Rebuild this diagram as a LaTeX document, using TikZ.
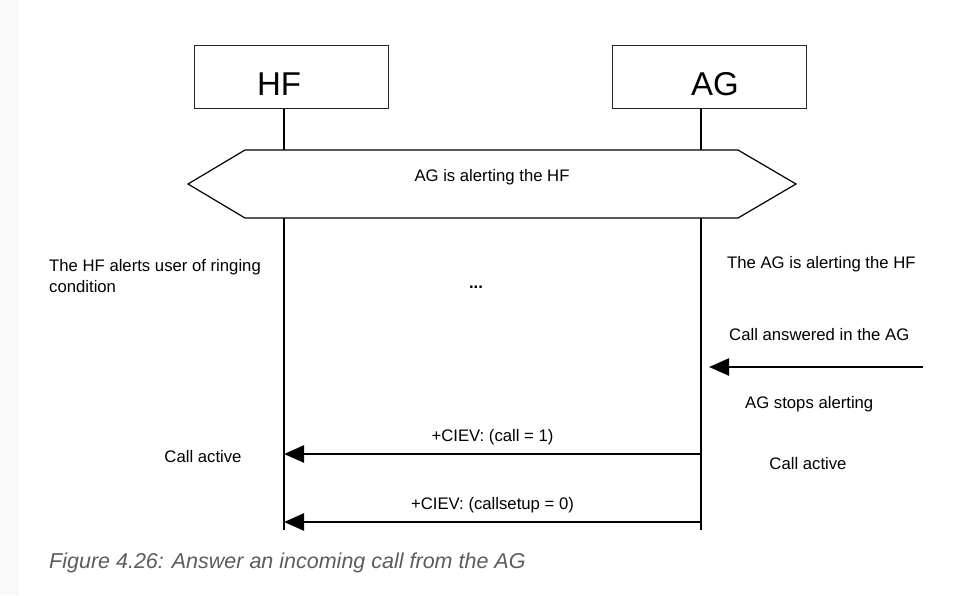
\documentclass[tikz,border=0pt]{standalone}
\usepackage{fontspec}
\setmainfont{Liberation Sans}
\usetikzlibrary{arrows.meta}
\usetikzlibrary{positioning}
\definecolor{capgray}{RGB}{92,92,92}
\definecolor{edgegray}{RGB}{248,248,248}
\tikzset{every picture/.style={x=1pt,y=-1pt}}
\tikzset{
  entity/.style={draw=black!85, line width=1pt, minimum width=194pt, minimum height=63pt, inner sep=0pt},
  entityname/.style={inner sep=0pt, font=\fontsize{33}{36}\selectfont},
  note/.style={inner sep=0pt, font=\fontsize{16.7}{21.5}\selectfont},
  lifeline/.style={line width=2pt},
  msg/.style={line width=2.5pt, -{Triangle[length=20pt,width=17pt]}}
}

\begin{document}
\begin{tikzpicture}
  \useasboundingbox (0,0) rectangle (969,595);
  \fill [edgegray] (0,0) rectangle (18,595);

  % entities
  \node [entity] at (291,76.5) (hf) {};
  \node [entity] at (709.5,76.5) (ag) {};
  \node [entityname] at ([xshift=-12pt,yshift=-7.5pt]hf.center) (hfname) {HF};
  \node [entityname] at ([xshift=5.5pt,yshift=-7.5pt]ag.center) (agname) {AG};

  % lifelines
  \coordinate (hfend) at (284,530);
  \coordinate (agend) at (701,530);
  \draw [lifeline] (hf.south -| hfend) -- (hfend);
  \draw [lifeline] (ag.south -| agend) -- (agend);

  % alerting phase
  \coordinate (hxl) at (188,184);
  \coordinate (hxr) at (796,184);
  \draw [fill=white, line width=1.2pt] (hxl) -- (245,150) -- (738,150) -- (hxr) -- (738,218) -- (245,218) -- cycle;
  \node [note] at (492,177) (alert) {AG is alerting the HF};

  \node [note, anchor=west, align=left] at (49,276) (hfnote) {The HF alerts user of ringing\\condition};
  \node [note] at (476,287) (dots) {\textbf{...}};
  \node [note, anchor=west] at (727,264) (agnote) {The AG is alerting the HF};
  \node [note, anchor=west] at (729,335) (answered) {Call answered in the AG};

  \coordinate (ext) at (923,367);
  \coordinate (ans) at (709,367);
  \draw [msg] (ext) -- (ans);

  \node [note, anchor=west] at (745,404) (stops) {AG stops alerting};

  % indicator messages
  \foreach \y/\txt [count=\ci] in {454/{+CIEV: (call = 1)}, 522/{+CIEV: (callsetup = 0)}} {
    \coordinate (ag\ci) at (701,\y);
    \coordinate (hf\ci) at (284,\y);
    \draw [msg] (ag\ci) -- (hf\ci) node [note, midway, above=8pt] (ciev\ci) {\txt};
  }

  \node [note] at (203,457) (activehf) {Call active};
  \node [note] at (808,464) (activeag) {Call active};

  \node [anchor=west, inner sep=0pt, text=capgray, font=\fontsize{21.5}{24}\selectfont\itshape] at (49,563) (caption) {Figure 4.26: Answer an incoming call from the AG};
\end{tikzpicture}
\end{document}
